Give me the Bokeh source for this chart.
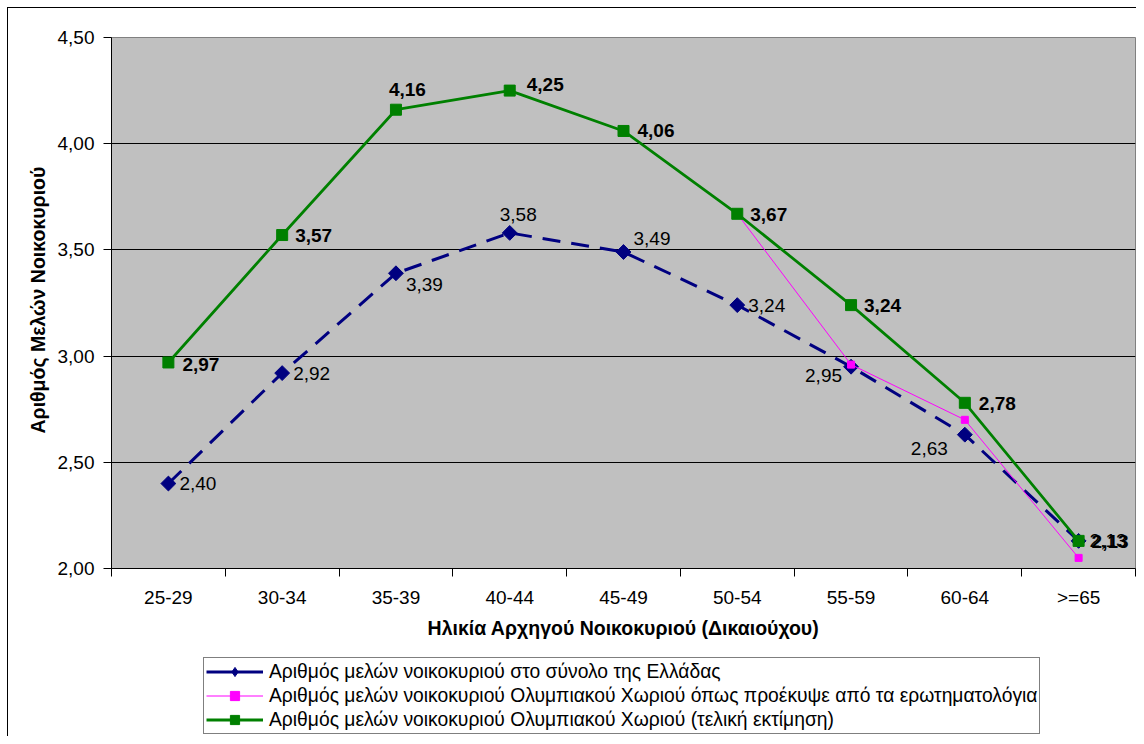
import math
from bokeh.plotting import figure
from bokeh.layouts import column
from bokeh.models import (ColumnDataSource, FixedTicker, Range1d, Legend,
                          LegendItem, LabelSet, Title)
from bokeh.core.properties import value
from bokeh.embed import file_html
from bokeh.resources import INLINE

# ---------------- data ----------------
categories = ["25-29", "30-34", "35-39", "40-44", "45-49",
              "50-54", "55-59", "60-64", ">=65"]
greece = [2.40, 2.92, 3.39, 3.58, 3.49, 3.24, 2.95, 2.63, 2.13]
survey = [math.nan, math.nan, math.nan, math.nan, math.nan, 3.67, 2.96, 2.70, 2.05]
final = [2.97, 3.57, 4.16, 4.25, 4.06, 3.67, 3.24, 2.78, 2.13]
y_ticks = [2.0, 2.5, 3.0, 3.5, 4.0, 4.5]
y_tick_labels = ["2,00", "2,50", "3,00", "3,50", "4,00", "4,50"]

series_names = [
    "Αριθμός μελών νοικοκυριού στο σύνολο της Ελλάδας",
    "Αριθμός μελών νοικοκυριού Ολυμπιακού Χωριού όπως προέκυψε από τα ερωτηματολόγια",
    "Αριθμός μελών νοικοκυριού Ολυμπιακού Χωριού (τελική εκτίμηση)",
]
x_title = "Ηλικία Αρχηγού Νοικοκυριού (Δικαιούχου)"
y_title = "Αριθμός Μελών Νοικοκυριού"

# ---------------- label placement (style) ----------------
blue_dx = [11, 11, 10, -10, 10, 11, -46, -54, 11]
blue_dy = [0, 0, -11, 18, 14, 0, -9, -14, 0]
green_dx = [14, 13, -7, 17, 14, 13, 13, 14, 13]
green_dy = [-2, 0, 20, 6, 0, -1, 0, -1, -1]

FONT = "Liberation Sans"
FS = "19px"
TFS = "19.5px"
LFS = "19.3px"

BLUE, PINK, GREEN = "#000080", "#FF00FF", "#008000"

xs = [i + 0.5 for i in range(len(categories))]

def fmt(v):
    return f"{v:.2f}".replace(".", ",")

src_b = ColumnDataSource(dict(x=xs, y=greece, t=[fmt(v) for v in greece],
                              dx=blue_dx, dy=blue_dy))
src_s = ColumnDataSource(dict(x=xs, y=survey))
src_g = ColumnDataSource(dict(x=xs, y=final, t=[fmt(v) for v in final],
                              dx=green_dx, dy=green_dy))

# ---------------- main chart ----------------
p = figure(width=1128, height=647, output_backend="svg", toolbar_location=None,
           x_range=Range1d(0, len(categories)), y_range=Range1d(2.0, 4.5),
           min_border_left=103, min_border_right=1, min_border_top=29,
           min_border_bottom=87)
p.background_fill_color = "#C0C0C0"
p.border_fill_color = "white"
p.outline_line_color = "#808080"
p.outline_line_width = 1

p.xgrid.visible = False
p.ygrid.ticker = FixedTicker(ticks=y_ticks)
p.ygrid.grid_line_color = "black"
p.ygrid.grid_line_width = 1

p.yaxis.ticker = FixedTicker(ticks=y_ticks, minor_ticks=[])
p.yaxis.major_label_overrides = dict(zip(y_ticks, y_tick_labels))
p.yaxis.major_tick_out = 8
p.yaxis.major_tick_in = 0
p.yaxis.major_label_standoff = 9

p.xaxis.ticker = FixedTicker(ticks=xs, minor_ticks=list(range(len(categories) + 1)))
p.xaxis.major_label_overrides = dict(zip(xs, categories))
p.xaxis.axis_label = x_title
p.xaxis.major_tick_line_color = None
p.xaxis.major_tick_out = 8
p.xaxis.major_tick_in = 0
p.xaxis.minor_tick_out = 8
p.xaxis.minor_tick_in = 0
p.xaxis.minor_tick_line_color = "black"
p.xaxis.major_label_standoff = 10
p.xaxis.axis_label_standoff = 6

for ax in (p.xaxis[0], p.yaxis[0]):
    ax.axis_line_color = "black"
    ax.major_label_text_font = FONT
    ax.major_label_text_font_size = FS
    ax.major_label_text_color = "black"
    ax.axis_label_text_font = FONT
    ax.axis_label_text_font_size = TFS
    ax.axis_label_text_font_style = "bold"
    ax.axis_label_text_color = "black"

# y-axis title (placed a little below the frame's centre, as in the original)
p.add_layout(Title(text=y_title, align="left", offset=135, standoff=12,
                   text_font=FONT, text_font_size=TFS, text_font_style="bold",
                   text_color="black"), "left")

p.line("x", "y", source=src_b, line_color=BLUE, line_width=3, line_dash="18 11")
p.scatter("x", "y", source=src_b, marker="square", angle=math.pi / 4,
          size=10.5, fill_color=BLUE, line_color=BLUE)
p.line("x", "y", source=src_s, line_color=PINK, line_width=1)
p.scatter("x", "y", source=src_s, marker="square", size=7,
          fill_color=PINK, line_color=PINK)
p.line("x", "y", source=src_g, line_color=GREEN, line_width=2.75)
p.scatter("x", "y", source=src_g, marker="square", size=11,
          fill_color=GREEN, line_color=GREEN)

p.add_layout(LabelSet(x="x", y="y", text="t", source=src_b,
                      x_offset="dx", y_offset="dy",
                      text_font=value(FONT), text_font_size=value(FS),
                      text_color="black", text_baseline="middle",
                      text_align="left"))
p.add_layout(LabelSet(x="x", y="y", text="t", source=src_g,
                      x_offset="dx", y_offset="dy",
                      text_font=value(FONT), text_font_size=value(FS),
                      text_font_style=value("bold"), text_color="black",
                      text_baseline="middle", text_align="left"))

# ---------------- legend strip ----------------
p2 = figure(width=1128, height=81, output_backend="svg", toolbar_location=None,
            x_range=Range1d(0, 1), y_range=Range1d(0, 1),
            x_axis_type=None, y_axis_type=None,
            min_border_left=0, min_border_right=0, min_border_top=0,
            min_border_bottom=0)
p2.grid.visible = False
p2.outline_line_color = None
p2.background_fill_color = "white"
p2.border_fill_color = "white"

# legend-only renderers (hold no visible point)
def proxy():
    return ColumnDataSource(dict(x=[math.nan], y=[math.nan]))

r1l = p2.line("x", "y", source=proxy(), line_color=BLUE, line_width=3)
r1m = p2.scatter("x", "y", source=proxy(), marker="diamond",
                 size=14, fill_color=BLUE, line_color=BLUE)
r2l = p2.line("x", "y", source=proxy(), line_color=PINK, line_width=1)
r2m = p2.scatter("x", "y", source=proxy(), marker="square",
                 size=7, fill_color=PINK, line_color=PINK)
r3l = p2.line("x", "y", source=proxy(), line_color=GREEN, line_width=3)
r3m = p2.scatter("x", "y", source=proxy(), marker="square",
                 size=11, fill_color=GREEN, line_color=GREEN)

legend = Legend(items=[LegendItem(label=series_names[0], renderers=[r1l, r1m]),
                       LegendItem(label=series_names[1], renderers=[r2l, r2m]),
                       LegendItem(label=series_names[2], renderers=[r3l, r3m])],
                location=(92, 2), orientation="vertical",
                border_line_color="black", border_line_width=1,
                background_fill_color="white", background_fill_alpha=1,
                label_text_font=FONT, label_text_font_size=LFS,
                label_text_color="black",
                glyph_width=57, glyph_height=23, label_height=23,
                label_standoff=6, spacing=1, padding=2, margin=0)
p2.add_layout(legend, "center")

layout = column(p, p2, spacing=0,
                styles={"margin-left": "7px", "margin-top": "7px",
                        "border-left": "1px solid black",
                        "border-top": "1px solid black"})
open("out.html", "w").write(file_html(layout, INLINE))
